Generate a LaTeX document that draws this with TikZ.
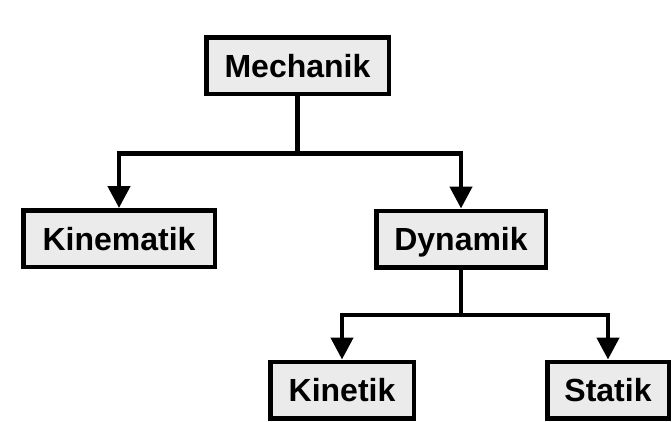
\documentclass[tikz,border=0pt]{standalone}
\usepackage{fontspec}
\newfontfamily\boxfont{Liberation Sans}
\usetikzlibrary{arrows.meta}

\begin{document}
\begin{tikzpicture}[y=-1pt,x=1pt,
	fach/.style={draw, line width=4.5pt, fill=black!8, inner sep=0pt, minimum height=56.5pt,
		text height=23pt, text depth=0pt,
		font=\boxfont\bfseries\fontsize{32}{32}\selectfont},
	conn/.style={line width=4.5pt, -{Triangle[length=22pt,width=22pt]}}]
	\useasboundingbox[fill=white] (0,0) rectangle (672,421);

	\node[fach, minimum width=182.5pt] (mechanik) at (297.5,65.5) {Mechanik};
	\node[fach, minimum width=191.5pt] (kinematik) at (119,238.5) {Kinematik};
	\node[fach, minimum width=169.5pt] (dynamik) at (461,239) {Dynamik};
	\node[fach, minimum width=143.5pt] (kinetik) at (342,390) {Kinetik};
	\node[fach, minimum width=121.5pt] (statik) at (608,390) {Statik};

	\draw[conn] (mechanik.south) -- ++(0,57.5) -| (kinematik.north);
	\draw[conn] (mechanik.south) -- ++(0,57.5) -| (dynamik.north);
	\draw[conn] (dynamik.south) -- ++(0,45.5) -| (kinetik.north);
	\draw[conn] (dynamik.south) -- ++(0,45.5) -| (statik.north);
\end{tikzpicture}
\end{document}
